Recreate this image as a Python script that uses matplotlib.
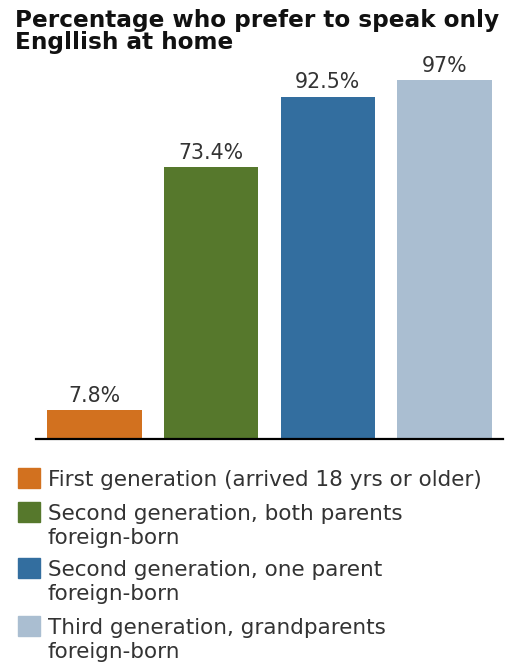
import matplotlib.pyplot as plt
from matplotlib.patches import Rectangle

# data
categories = ['First generation (arrived 18 yrs or older)',
              'Second generation, both parents\nforeign-born',
              'Second generation, one parent\nforeign-born',
              'Third generation, grandparents\nforeign-born']
values = [7.8, 73.4, 92.5, 97]
value_labels = ['7.8%', '73.4%', '92.5%', '97%']
colors = ['#D2711F', '#56782C', '#336E9F', '#AABED1']
title = 'Percentage who prefer to speak only\nEngllish at home'

W, H = 512, 664
fig = plt.figure(figsize=(W / 100, H / 100), dpi=100)

# axes: x 36..503 px, baseline at y=439 px, top at y=60 px
ax = fig.add_axes([36 / W, 1 - 439 / H, (503 - 36) / W, (439 - 60) / H])
x = range(len(values))
bars = ax.bar(x, values, width=0.81, color=colors)
ax.set_xlim(-0.5, 3.5)
ax.set_ylim(0, 102.4)
for b, lab in zip(bars, value_labels):
    ax.annotate(lab, (b.get_x() + b.get_width() / 2, b.get_height()),
                xytext=(0, 6), textcoords='offset points',
                ha='center', va='baseline', fontsize=14.8, color='#333333')
for s in ['top', 'left', 'right']:
    ax.spines[s].set_visible(False)
ax.spines['bottom'].set_linewidth(1.6)
ax.set_xticks([])
ax.set_yticks([])

# title, one text per line
for i, line in enumerate(title.split('\n')):
    fig.text(15 / W, 1 - (27 + 22 * i) / H, line, ha='left', va='baseline',
             fontsize=16.7, fontweight='bold', color='#111111')

# legend drawn by hand
box_tops = [468, 502, 558, 616]
for top, col, cat in zip(box_tops, colors, categories):
    fig.patches.append(Rectangle((18 / W, 1 - (top + 20) / H), 22 / W, 20 / H,
                                 color=col, transform=fig.transFigure))
    for i, line in enumerate(cat.split('\n')):
        fig.text(48 / W, 1 - (top + 18 + 24 * i) / H, line, ha='left',
                 va='baseline', fontsize=15.5, color='#333333')

fig.savefig('out.png', dpi=100)
